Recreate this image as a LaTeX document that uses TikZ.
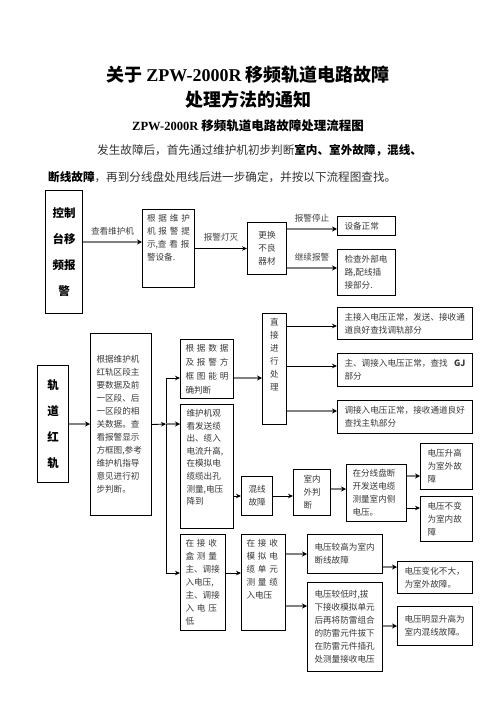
\documentclass[tikz,border=0pt]{standalone}
\usepackage{fontspec}
\setmainfont{Noto Sans CJK SC}
\newfontfamily\lat{Liberation Serif}
\usetikzlibrary{arrows.meta,positioning}
\newcommand{\bodyfont}{\fontsize{8.6}{13}\selectfont}

\begin{document}
\begin{tikzpicture}[
  x=1pt, y=-1pt,
  font=\bodyfont,
  >={Stealth[length=5pt, width=4.5pt]},
  box/.style={rectangle, draw=black, line width=1pt, anchor=north west,
              inner xsep=7pt, inner ysep=4pt, align=left, text=black!78, font=\bodyfont},
  topbox/.style={box, text height=8pt, text depth=#1},
  head/.style={box, align=center, inner xsep=4pt, text=black,
               font=\fontsize{11.5}{26}\selectfont\bfseries},
  link/.style={->, line width=0.9pt, draw=black},
  glink/.style={-{Stealth[length=5pt, width=5pt, color=black]}, line width=2pt, draw=black!50},
  lbl/.style={font=\bodyfont, text=black!75, inner sep=1pt},
  ttl/.style={font=\fontsize{18}{20}\selectfont\bfseries},
  para/.style={anchor=west, inner sep=0pt, font=\fontsize{11.6}{14}\selectfont, text=black!80},
]
\useasboundingbox (0,0) rectangle (496,702);

% heading and note
\node[ttl] (title) at (248,75) {关于 {\lat ZPW-2000R} 移频轨道电路故障};
\node[ttl] (title2) at (248,100) {处理方法的通知};
\node[font=\fontsize{12.5}{14}\selectfont\bfseries] (sub) at (248,126) {{\lat ZPW-2000R} 移频轨道电路故障处理流程图};
\node[para] (p1) at (97,150) {发生故障后，首先通过维护机初步判断{\bfseries\color{black}室内、室外故障，混线、}};
\node[para] (p2) at (48,177) {{\bfseries\color{black}断线故障}，再到分线盘处甩线后进一步确定，并按以下流程图查找。};

% alarm on the console
\node[head, text width=29pt, minimum height=123pt] (alarm) at (45,190) {控制\\台移\\频报\\警};
\node[topbox=62pt, inner xsep=4.5pt, text width=43pt] (hint) at (142,209) {根 据 维 护\\机 报 警 提\\示,查 看 报\\警设备.};
\node[box, align=center, text width=25pt, minimum height=52pt] (swap) at (247,222) {更换\\不良\\器材};
\node[box, text width=44pt, minimum height=19pt] (ok) at (337,216) {设备正常};
\node[box, text width=44pt, minimum height=46pt, below=13pt of ok.south west, anchor=north west] (ext) {检查外部电\\路,配线插\\接部分.};

% red track
\node[head, text width=23pt, minimum height=117pt] (rail) at (37,365) {轨\\道\\红\\轨};
\node[box, inner xsep=6pt, text width=49pt, minimum height=182pt] (pre) at (90,333) {根据维护机\\红轨区段主\\要数据及前\\一区段、后\\一区段的相\\关数据。查\\看报警显示\\方框图,参考\\维护机指导\\意见进行初\\步判断。};
\node[box, inner xsep=5pt, text width=43pt, minimum height=59pt,
      font=\fontsize{8.6}{14}\selectfont] (data) at (180,339) {根 据 数 据\\及 报 警 方\\框 图 能 明\\确判断};
\node[topbox=108pt, inner xsep=6pt, text width=41pt,
      font=\fontsize{8.6}{12.6}\selectfont] (obs) at (180,404) {维护机观\\看发送缆\\出、缆入\\电流升高,\\在模拟电\\缆缆出孔\\测量,电压\\降到};
\node[topbox=95pt, align=center, text width=10pt] (direct) at (262,313) {直\\接\\进\\行\\处\\理};
\node[box, text width=121pt, minimum height=32pt] (dA) at (337,307) {主接入电压正常，发送、接收通\\道良好查找调轨部分};
\node[box, text width=121pt, minimum height=33pt, below=13pt of dA.south west, anchor=north west] (dB) {主、调接入电压正常，查找\hfill{\bfseries GJ}\\部分};
\node[box, text width=121pt, minimum height=33pt, below=13pt of dB.south west, anchor=north west] (dC) {调接入电压正常，接收通道良好\\查找主轨部分};

\node[box, align=center, text width=17pt, minimum height=39pt] (mix) at (241,476) {混线\\故障};
\node[box, inner xsep=10pt, text width=17pt, minimum height=46pt] (inout) at (293,469) {室内\\外判\\断};
\node[box, inner xsep=6pt, text width=48pt, minimum height=57pt] (cut) at (346,464) {在分线盘断\\开发送电缆\\测量室内侧\\电压。};
\node[box, text width=38pt, minimum height=46pt] (up) at (420,443) {电压升高\\为室外故\\障};
\node[box, text width=38pt, minimum height=45pt] (same) at (420,496) {电压不变\\为室内故\\障};

\node[box, inner xsep=5pt, text width=35pt, minimum height=96pt] (recv) at (180,534) {在 接 收\\盒 测 量\\主、调接\\入电压,\\主、调接\\入 电 压\\低};
\node[topbox=80pt, inner xsep=5pt, text width=34pt] (sim) at (241,534) {在 接 收\\模 拟 电\\缆 单 元\\测 量 缆\\入电压};
\node[box, text width=61pt, minimum height=39pt] (hi) at (307,534) {电压较高为室内\\断线故障};
\node[box, text width=61pt, minimum height=89pt] (lo) at (307,582) {电压较低时,拔\\下接收模拟单元\\后再将防雷组合\\的防雷元件拔下\\在防雷元件插孔\\处测量接收电压};
\node[box, text width=61pt, minimum height=32pt] (small) at (397,561) {电压变化不大，\\为室外故障。};
\node[box, text width=61pt, minimum height=39pt] (big) at (397,606) {电压明显升高为\\室内混线故障。};

% arrow rows
\coordinate (toHint) at (0,242);
\coordinate (toOk) at (0,229);
\coordinate (toExt) at (0,268);
\coordinate (toData) at (0,378);
\coordinate (toA) at (0,326);
\coordinate (toB) at (0,366);
\coordinate (toC) at (0,411);
\coordinate (toMix) at (0,496);
\coordinate (toCut) at (0,489);
\coordinate (toUp) at (0,476);
\coordinate (toSame) at (0,508);
\coordinate (toRecv) at (0,573);
\coordinate (toHi) at (0,554);
\coordinate (toLo) at (0,606);
\coordinate (toSmall) at (0,567);
\coordinate (toBig) at (0,626);
\coordinate (split) at (166,424);

\draw[glink] (alarm.east |- toHint) -- node[lbl, above=5pt]{查看维护机} (hint.west |- toHint);
\draw[link] (hint.east) -- node[lbl, above=6pt]{报警灯灭} (swap.west);
\draw[glink] (swap.east |- toOk) -- node[lbl, above=5pt]{报警停止} (ok.west |- toOk);
\draw[glink] (swap.east |- toExt) -- node[lbl, above=5pt]{继续报警} (ext.west |- toExt);

\draw[glink] (rail.east) -- (rail.east -| pre.west);
\draw[link] (pre.east) -- (split);
\draw[link] (split) |- (data.west |- toData);
\draw[glink] (split) -- (obs.west |- split);
\draw[link] (split) |- (recv.west |- toRecv);
\draw[glink] (data.east |- toData) -- (direct.west |- toData);
\draw[link] (direct.east |- toA) -- (dA.west |- toA);
\draw[link] (direct.east |- toB) -- (dB.west |- toB);
\draw[glink] (direct.east |- toC) -- (dC.west |- toC);

\draw[link] (obs.east |- toMix) -- (mix.west |- toMix);
\draw[link] (mix.east |- toMix) -- (inout.west |- toMix);
\draw[glink] (inout.east |- toCut) -- (cut.west |- toCut);
\draw[glink] (cut.east |- toUp) -- (up.west |- toUp);
\draw[link] (cut.east |- toSame) -- (same.west |- toSame);

\draw[link] (recv.east |- toRecv) -- (sim.west |- toRecv);
\draw[glink] (sim.east |- toHi) -- (hi.west |- toHi);
\draw[glink] (sim.east |- toLo) -- (lo.west |- toLo);
\draw[glink] (hi.east |- toSmall) -- (small.west |- toSmall);
\draw[glink] (lo.east |- toBig) -- (big.west |- toBig);

\end{tikzpicture}
\end{document}
